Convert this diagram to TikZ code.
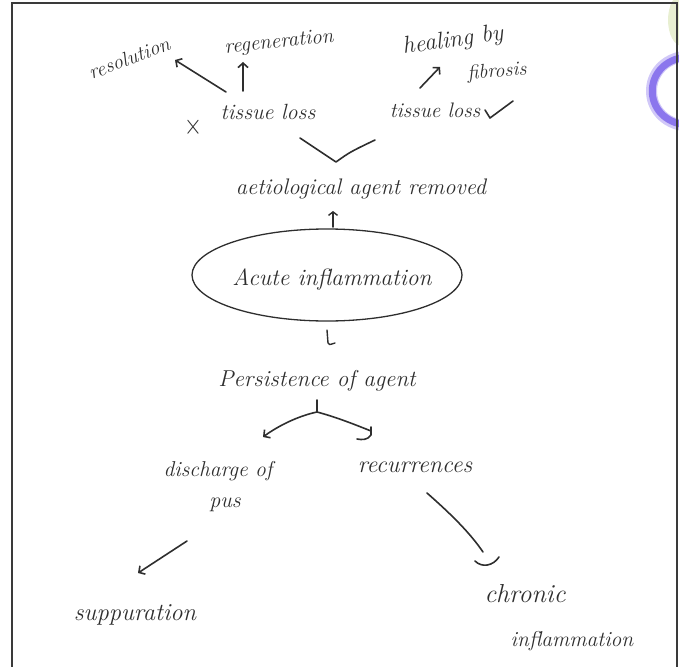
\documentclass[tikz,border=0pt]{standalone}
\usetikzlibrary{arrows.meta,shapes.geometric}
\definecolor{ink}{HTML}{2E2E2E}
\definecolor{frameink}{HTML}{3A3A3A}
\definecolor{blobgreen}{HTML}{E2EBC6}
\definecolor{blobpurple}{HTML}{7A62EA}
\begin{document}
\begin{tikzpicture}[x=1pt,y=-1pt,
  lbl/.style={text=ink, inner sep=0pt, font=\itshape\fontsize{#1}{#1}\selectfont},
  lbl/.default=18,
  conn/.style={draw=ink, line width=1.6pt, line cap=round, line join=round},
  arr/.style={conn, -{Straight Barb[length=4.5pt,width=10pt,line width=1.6pt]}},
  bubble/.style={ellipse, draw=ink, line width=1.3pt, minimum width=270pt, minimum height=92pt, inner sep=0pt}
]
\useasboundingbox (0,0) rectangle (679,666);
\begin{scope}
\clip (0,0) rectangle (679,666);
% decorations outside the frame
\fill[blobgreen, opacity=0.8] (682,20) ellipse [x radius=14, y radius=26];
\draw[blobpurple, line width=11pt, opacity=0.35] (686,56) .. controls (640,61) and (640,121) .. (686,126);
\draw[blobpurple, line width=7pt, opacity=0.8] (686,57) .. controls (641,62) and (641,120) .. (686,125);
% frame
\draw[frameink, line width=1.5pt] (12,670) -- (12,3) -- (677,3) -- (677,670);
\end{scope}

% labels
\node[lbl=20.5, rotate=21] (res) at (129,58) {resolution};
\node[lbl=21, rotate=6] (reg) at (279,43) {regeneration};
\node[lbl=24, rotate=8] (heal) at (453,41) {healing by};
\node[lbl=20, rotate=4] (fib) at (497,72) {fibrosis};
\node[text=ink, inner sep=0pt] (cross) at (193,127) {\normalsize\scalebox{2.3}[2.9]{$\times$}};
\node[lbl=22] (tl1) at (268,112) {tissue loss};
\node[lbl=21] (tl2) at (435,110) {tissue loss};
\node[lbl=22.5] (aet) at (361,189) {aetiological agent removed};
\node[bubble] (ai) at (327,275) {};
\node[lbl=23.5] (ait) at (332,280) {Acute inflammation};
\node[lbl=23] (per) at (317,381) {Persistence of agent};
\node[lbl=21.5] (dis) at (218,471) {discharge of};
\node[lbl=22] (pus) at (225,505) {pus};
\node[lbl=24] (rec) at (415,467) {recurrences};
\node[lbl=24.5] (sup) at (135,615) {suppuration};
\node[lbl=26] (chr) at (525,594) {chronic};
\node[lbl=21.5] (inf) at (572,641) {inflammation};

% connector end points
\coordinate (resA) at (226,92);  \coordinate (resB) at (175,60);
\coordinate (regA) at (243,91);  \coordinate (regB) at (243,62);
\coordinate (fibA) at (420,88);  \coordinate (fibB) at (440,67);
\coordinate (vl) at (300,138);   \coordinate (vv) at (336,162);   \coordinate (vr) at (375,140);
\coordinate (upA) at (333,227);  \coordinate (upB) at (333,211);
\coordinate (dnA) at (327,330);  \coordinate (dnB) at (328,343);  \coordinate (dnC) at (335,343);
\coordinate (stem) at (317,400); \coordinate (junc) at (317,412);
\coordinate (brL) at (263,437);  \coordinate (brR) at (371,431);
\coordinate (hkR1) at (371,427); \coordinate (hkR2) at (357,439);
\coordinate (supA) at (187,541); \coordinate (supB) at (138,573);
\coordinate (chA) at (427,493);  \coordinate (chB) at (483,552);
\coordinate (cup1) at (475,561); \coordinate (cup2) at (499,557);

% connectors
\draw[arr] (resA) -- (resB);
\draw[arr] (regA) -- (regB);
\draw[arr] (fibA) -- (fibB);
\draw[conn] (485,110) -- (490,118) -- (513,101);
\draw[conn] (vl) -- (vv) .. controls (350,152) .. (vr);
\draw[arr, -{Straight Barb[length=3.5pt,width=9pt,line width=1.4pt]}] (upA) -- (upB);
\draw[conn, line width=1.4pt] (dnA) -- (dnB) .. controls (329,345) .. (dnC);
\draw[conn] (stem) -- (junc);
\draw[arr] (junc) .. controls (298,416) and (278,426) .. (brL);
\draw[conn] (junc) .. controls (336,417) and (356,425) .. (brR);
\draw[conn] (hkR1) -- (371,435) .. controls (368,440) and (362,440) .. (hkR2);
\draw[arr] (supA) -- (supB);
\draw[conn] (chA) .. controls (452,515) and (470,533) .. (chB);
\draw[conn] (cup1) .. controls (482,568) and (493,566) .. (cup2);
\end{tikzpicture}
\end{document}
